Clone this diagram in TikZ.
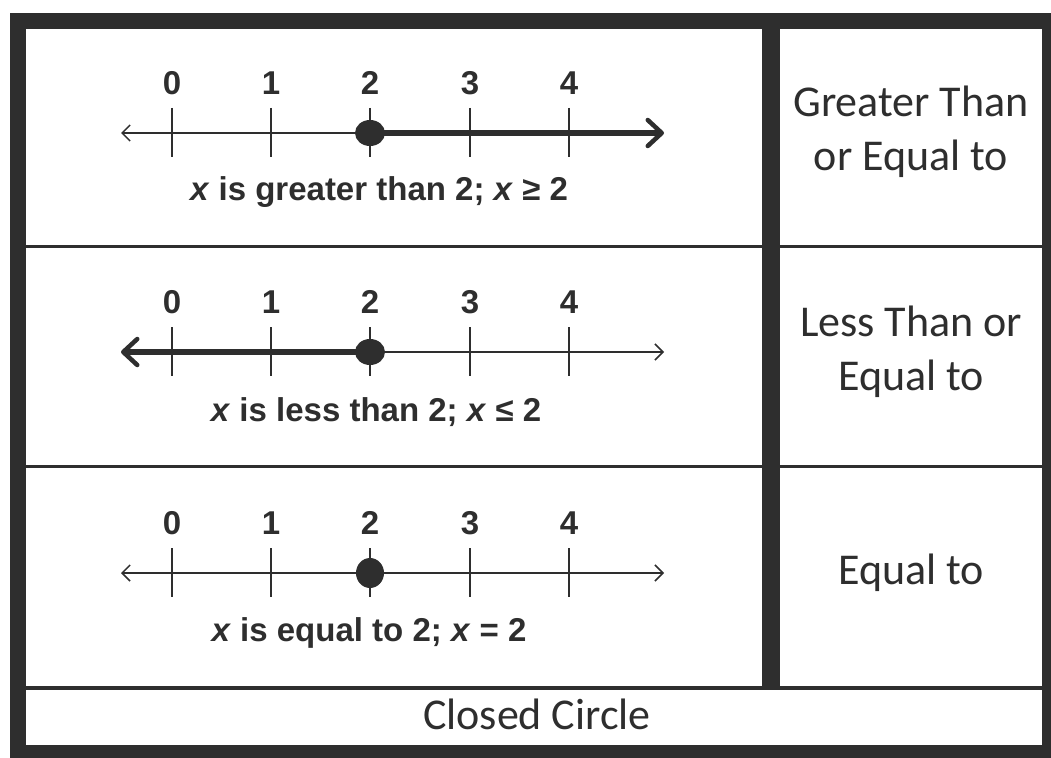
\documentclass[tikz,border=0pt]{standalone}
\usepackage{fontspec}
\setmainfont{Liberation Sans}
\newfontfamily\hand{Carlito}
\usetikzlibrary{arrows.meta}
\definecolor{ink}{HTML}{2E2E2E}
\tikzset{
  frame/.style={draw=ink,line width=16pt},
  divider/.style={draw=ink,line width=3pt},
  vdivider/.style={draw=ink,line width=18pt},
  lbl/.style={font=\bfseries\fontsize{33}{36}\selectfont,text=ink,inner sep=0pt},
  captext/.style={font=\bfseries\fontsize{33}{36}\selectfont,text=ink,inner sep=0pt},
  hw/.style={font=\hand\fontsize{44}{54}\selectfont,text=ink,align=center,inner sep=0pt},
  tickmark/.style={draw=ink,line width=1.8pt},
  thinray/.style={draw=ink,line width=1.8pt},
  thickray/.style={draw=ink,line width=5.5pt},
  thintip/.tip={Straight Barb[length=8pt,width=16pt,line width=1.5pt]},
  thicktip/.tip={Straight Barb[length=14pt,width=26pt,line width=4.5pt,round]},
  dotmark/.style={fill=ink}
}
\begin{document}
\begin{tikzpicture}[x=1pt,y=-1pt]
\useasboundingbox (0,0) rectangle (1051,757);
\clip (0,0) rectangle (1051,757);
\fill[white] (0,0) rectangle (1051,757);
% frame and grid
\draw[frame] (18,21) rectangle (1050,753);
\draw[divider] (26,246) -- (1043,246);
\draw[divider] (26,466) -- (1043,466);
\draw[draw=ink,line width=4pt] (26,688) -- (1043,688);
\draw[vdivider] (771,26) -- (771,688);
% rows
\foreach \r/\L in {1/133,2/352,3/573} {
  \foreach \n/\xx in {0/172,1/271,2/370,3/470,4/569} {
    \node[lbl] (r\r n\n) at (\xx,\L-50) {\n};
    \draw[tickmark] (\xx,\L-25) -- (\xx,\L+24);
  }
  \coordinate (r\r L) at (121,\L);
  \coordinate (r\r D) at (370,\L);
  \coordinate (r\r R) at (664,\L);
}
% row 1: x >= 2
\draw[thinray,{thintip}-] (r1L) -- (r1D);
\draw[thickray,-{thicktip}] (r1D) -- (r1R);
\fill[dotmark] (r1D) ellipse [x radius=15pt,y radius=13pt];
\node[captext] (c1) at (379,192) {\textit{x} is greater than 2; \textit{x} ≥ 2};
% row 2: x <= 2
\draw[thickray,{thicktip}-] (r2L) -- (r2D);
\draw[thinray,-{thintip}] (r2D) -- (r2R);
\fill[dotmark] (r2D) ellipse [x radius=15pt,y radius=13pt];
\node[captext] (c2) at (376,412) {\textit{x} is less than 2; \textit{x} ≤ 2};
% row 3: x = 2
\draw[thinray,{thintip}-{thintip}] (r3L) -- (r3R);
\fill[dotmark] (r3D) ellipse [x radius=14pt,y radius=15pt];
\node[captext] (c3) at (369,633) {\textit{x} is equal to 2; \textit{x} = 2};
% right column
\node[hw] (h1) at (911,132) {Greater Than\\or Equal to};
\node[hw] (h2) at (911,352) {Less Than or\\Equal to};
\node[hw] (h3) at (911,573) {Equal to};
\node[hw] (h4) at (537,714) {Closed Circle};
\end{tikzpicture}
\end{document}
